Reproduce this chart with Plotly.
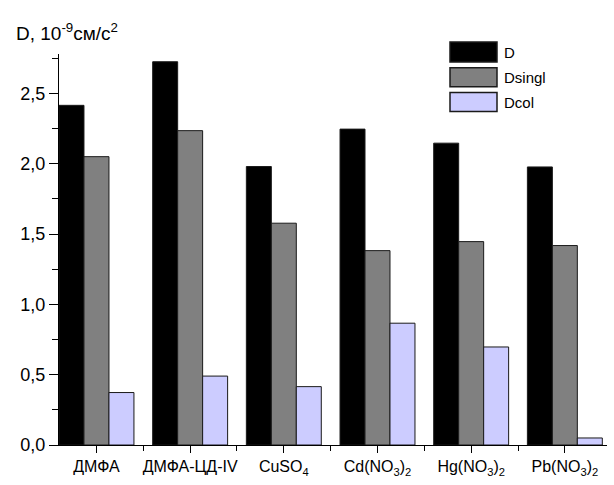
import plotly.graph_objects as go

categories = ["ДМФА", "ДМФА-ЦД-IV", "CuSO<sub>4</sub>", "Cd(NO<sub>3</sub>)<sub>2</sub>",
              "Hg(NO<sub>3</sub>)<sub>2</sub>", "Pb(NO<sub>3</sub>)<sub>2</sub>"]
D = [2.415, 2.725, 1.98, 2.246, 2.146, 1.977]
D_singl = [2.05, 2.235, 1.577, 1.382, 1.446, 1.418]
D_col = [0.373, 0.49, 0.415, 0.866, 0.697, 0.05]
series_names = ["D", "Dsingl", "Dcol"]
y_tick_vals = [0.0, 0.5, 1.0, 1.5, 2.0, 2.5]
y_tick_text = ["0,0", "0,5", "1,0", "1,5", "2,0", "2,5"]

colors = ["#000000", "#808080", "#CCCCFF"]
FONT = "Liberation Sans, Arial, sans-serif"

x = list(range(len(categories)))

fig = go.Figure()
for name, vals, c in zip(series_names, [D, D_singl, D_col], colors):
    fig.add_trace(go.Bar(
        x=x, y=vals, name=name,
        marker=dict(color=c, line=dict(color="#1a1a1a", width=1)),
        showlegend=False,
    ))

W, H = 614, 485
L, R, T, B = 59, 7, 54, 36
pw = W - L - R
ph = H - T - B


def px(xp):
    return (xp - L) / pw


def py(yp):
    return (H - B - yp) / ph


fig.update_layout(
    width=W, height=H,
    margin=dict(l=L, r=R, t=T, b=B),
    paper_bgcolor="white", plot_bgcolor="white",
    barmode="group", bargap=0.2, bargroupgap=0,
    font=dict(family=FONT, size=16, color="#000"),
    xaxis=dict(
        range=[-0.4, 5.45],
        tickmode="array", tickvals=x, ticktext=categories,
        ticks="outside", ticklen=7, tickcolor="#000",
        showline=True, linecolor="#000", linewidth=1,
        showgrid=False, zeroline=False,
        tickfont=dict(size=16),
        minor=dict(tickvals=[i + 0.5 for i in x[:-1]], ticks="outside",
                   ticklen=5, tickcolor="#000"),
    ),
    yaxis=dict(
        range=[0, 2.78],
        tickmode="array", tickvals=y_tick_vals, ticktext=y_tick_text,
        ticks="outside", ticklen=9, tickcolor="#000",
        showline=True, linecolor="#000", linewidth=1,
        showgrid=False, zeroline=False,
        tickfont=dict(size=18),
        minor=dict(dtick=0.25, tick0=0, ticks="outside", ticklen=6, tickcolor="#000"),
    ),
)

# Axis title at top-left
fig.add_annotation(
    text="D, 10<sup>-9</sup>см/с<sup>2</sup>",
    xref="paper", yref="paper", x=px(14), y=py(18),
    xanchor="left", yanchor="top", showarrow=False,
    font=dict(size=19, family=FONT),
)

# Custom legend
rows = [(42, 62), (68, 87), (93, 112)]
for (y0, y1), name, c in zip(rows, series_names, colors):
    fig.add_shape(type="rect", xref="paper", yref="paper",
                  x0=px(450), x1=px(497), y0=py(y1), y1=py(y0),
                  fillcolor=c, line=dict(color="#1a1a1a", width=1.5))
    fig.add_annotation(text=name, xref="paper", yref="paper",
                       x=px(502), y=py((y0 + y1) / 2), xanchor="left", yanchor="middle",
                       showarrow=False, font=dict(size=15, family=FONT))

fig.write_html("out.html")
